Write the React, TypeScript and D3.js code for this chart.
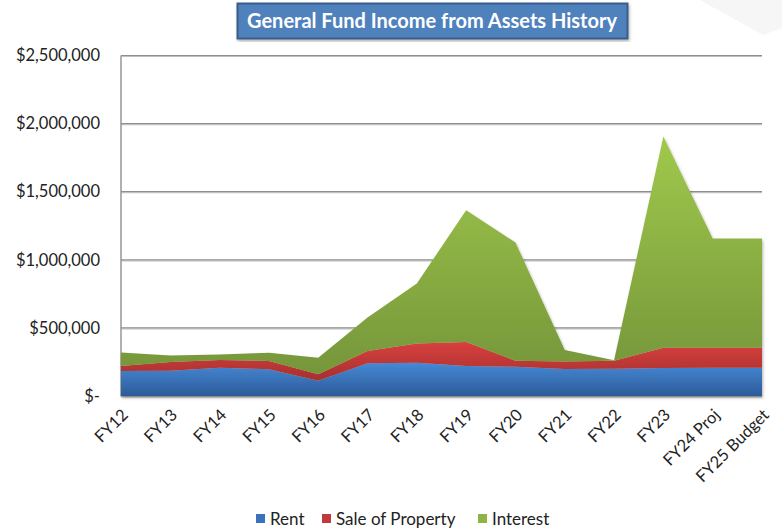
import React from "react";
import * as d3 from "d3";

const categories = ["FY12", "FY13", "FY14", "FY15", "FY16", "FY17", "FY18", "FY19", "FY20", "FY21", "FY22", "FY23", "FY24 Proj", "FY25 Budget"];
const rent = [183000, 185000, 208000, 196000, 112000, 240000, 244000, 220000, 215000, 198000, 200000, 205000, 208000, 208000];
const saleOfProperty = [37000, 64000, 56000, 61000, 47000, 90000, 142000, 176000, 44000, 56000, 59000, 149000, 146000, 146000];
const interest = [100000, 49000, 41000, 61000, 122000, 247000, 440000, 968000, 868000, 83000, 4000, 1552000, 802000, 802000];
const yTicks = [0, 500000, 1000000, 1500000, 2000000, 2500000];
const seriesNames = ["Rent", "Sale of Property", "Interest"];

const W = 782;
const H = 529;
const FONT = "Lato, 'Open Sans', sans-serif";

const gradients = [
  { id: "gRent", top: "#4689d6", bottom: "#2c5b98", legend: "#3a72bd" },
  { id: "gSale", top: "#d8403e", bottom: "#a5302f", legend: "#c0393b" },
  { id: "gInt", top: "#a0c94c", bottom: "#76963a", legend: "#8db446" },
];

export default function App() {
  const table = categories.map((c, i) => ({
    cat: c,
    Rent: rent[i],
    "Sale of Property": saleOfProperty[i],
    Interest: interest[i],
  }));
  const stack = d3.stack<any>().keys(seriesNames);
  const layers = stack(table);

  const x = d3.scalePoint<string>().domain(categories).range([121, 762]);
  const y = d3.scaleLinear().domain([0, 2500000]).range([396, 55.5]);

  const area = d3
    .area<any>()
    .x((d) => x(d.data.cat) as number)
    .y0((d) => y(d[0]))
    .y1((d) => y(d[1]));

  const fmt = (v: number) => (v === 0 ? "$-" : "$" + d3.format(",")(v));

  return (
    <svg width={W} height={H} style={{ position: "absolute", left: 0, top: 0, background: "#fff" }} fontFamily={FONT}>
      <defs>
        {gradients.map((g) => (
          <linearGradient key={g.id} id={g.id} x1="0" y1="0" x2="0" y2="1">
            <stop offset="0" stopColor={g.top} />
            <stop offset="1" stopColor={g.bottom} />
          </linearGradient>
        ))}
        <filter id="shadow" x="-5%" y="-5%" width="110%" height="115%">
          <feDropShadow dx="1" dy="2" stdDeviation="1.5" floodColor="#000" floodOpacity="0.3" />
        </filter>
        <filter id="lineShadow" x="-5%" y="-50%" width="110%" height="300%">
          <feDropShadow dx="0" dy="1" stdDeviation="0.6" floodColor="#000" floodOpacity="0.25" />
        </filter>
      </defs>
      <polygon points="700,0 782,0 782,28 763,35" fill="#f6f6f6" />

      {/* gridlines */}
      <g filter="url(#lineShadow)">
        {yTicks.map((t) => (
          <line key={t} x1={121} x2={762} y1={y(t)} y2={y(t)} stroke="#8e8e8e" strokeWidth={1.2} />
        ))}
        <line x1={121} x2={121} y1={y(2500000)} y2={y(0)} stroke="#8e8e8e" strokeWidth={1.2} />
      </g>

      {/* y tick labels */}
      {yTicks.map((t) => (
        <text key={t} x={100} y={y(t)} dy="0.35em" textAnchor="end" fontSize={16.5} fill="#222">
          {fmt(t)}
        </text>
      ))}

      {/* areas */}
      <g filter="url(#shadow)">
        {layers.map((layer, i) => (
          <path key={layer.key} d={area(layer) as string} fill={`url(#${gradients[i].id})`} />
        ))}
      </g>

      {/* x labels */}
      {categories.map((c) => (
        <text
          key={c}
          transform={`translate(${(x(c) as number) + 8},${416}) rotate(-45)`}
          textAnchor="end"
          fontSize={16.5}
          fill="#222"
        >
          {c}
        </text>
      ))}

      {/* title */}
      <g filter="url(#shadow)">
        <rect x={237.5} y={3.5} width={390} height={35} fill="#4f81bd" stroke="#385d8a" strokeWidth={2} />
      </g>
      <text x={432} y={28} textAnchor="middle" fontSize={20} fontWeight="bold" fill="#fff">
        General Fund Income from Assets History
      </text>

      {/* legend */}
      {[
        { sx: 256, tx: 270 },
        { sx: 322, tx: 336 },
        { sx: 478, tx: 492 },
      ].map((p, i) => (
        <g key={i}>
          <rect x={p.sx} y={514} width={9} height={9} fill={gradients[i].legend} />
          <text x={p.tx} y={524.5} fontSize={17} fill="#222">
            {seriesNames[i]}
          </text>
        </g>
      ))}
    </svg>
  );
}
